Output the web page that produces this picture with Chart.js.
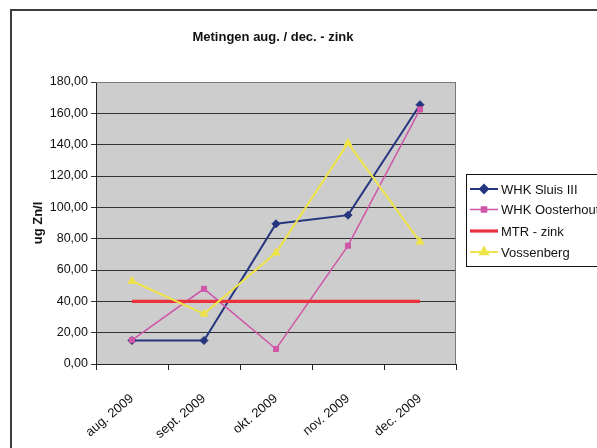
<!DOCTYPE html>
<html>
<head>
<meta charset="utf-8">
<script src="https://cdn.jsdelivr.net/npm/chart.js@4/dist/chart.umd.min.js"></script>
<style>
  html, body { margin: 0; padding: 0; background: #fff; overflow: hidden; }
  #wrap { position: absolute; left: 0; top: 0; width: 597px; height: 448px; }
</style>
</head>
<body>
<div id="wrap"><canvas id="c" width="597" height="448"></canvas></div>
<script>
// Monthly zinc measurements (ug Zn/l)
const chartTitle = 'Metingen aug. / dec. - zink';
const yAxisTitle = 'ug Zn/l';
const categories = ['aug. 2009', 'sept. 2009', 'okt. 2009', 'nov. 2009', 'dec. 2009'];
const seriesNames = ['WHK Sluis III', 'WHK Oosterhout', 'MTR - zink', 'Vossenberg'];
const sluisIII   = [15, 15, 89.5, 95, 165.5];
const oosterhout = [15.3, 48, 9.6, 75.5, 162.5];
const mtrZink    = [40, 40, 40, 40, 40];
const vossenberg = [53, 32, 71, 141, 78];
const yTicks = { min: 0, max: 180, step: 20 };

const FONT = "'Liberation Sans', Arial, sans-serif";

const styles = [
  { color: '#25367f', width: 2,   point: 'rectRot',  radius: 4 },
  { color: '#cf56a8', width: 1.5, point: 'rect',     radius: 3.6 },
  { color: '#e8323c', width: 3.2, point: false,      radius: 0 },
  { color: '#efe34a', width: 2,   point: 'triangle', radius: 4.5 }
];
const values = [sluisIII, oosterhout, mtrZink, vossenberg];

const datasets = values.map((v, i) => ({
  label: seriesNames[i],
  data: v,
  borderColor: styles[i].color,
  backgroundColor: styles[i].color,
  borderWidth: styles[i].width,
  pointStyle: styles[i].point,
  pointRadius: styles[i].radius,
  pointBorderWidth: 1,
  tension: 0,
  fill: false,
  order: values.length - i   // later series drawn on top
}));

// Frame, plot background, title and boxed legend
const decor = {
  id: 'decor',
  beforeDraw(chart) {
    const ctx = chart.ctx, a = chart.chartArea;
    ctx.save();
    ctx.fillStyle = '#ffffff';
    ctx.fillRect(0, 0, chart.width, chart.height);
    ctx.fillStyle = '#cdcdcd';
    ctx.fillRect(a.left, a.top, a.right - a.left, a.bottom - a.top);
    ctx.restore();
  },
  afterDraw(chart) {
    const ctx = chart.ctx, a = chart.chartArea;
    ctx.save();
    // plot border (top / right)
    ctx.strokeStyle = '#7a7a7a';
    ctx.lineWidth = 1;
    ctx.beginPath();
    ctx.moveTo(a.left, a.top + 0.5);
    ctx.lineTo(a.right - 0.5, a.top + 0.5);
    ctx.lineTo(a.right - 0.5, a.bottom);
    ctx.stroke();
    // outer frame
    ctx.strokeStyle = '#3c3c3c';
    ctx.lineWidth = 2;
    ctx.strokeRect(11, 10, 700, 600);
    // title
    ctx.fillStyle = '#111';
    ctx.font = 'bold 13px ' + FONT;
    ctx.textAlign = 'center';
    ctx.textBaseline = 'middle';
    ctx.fillText(chartTitle, 273, 37);
    // legend
    const lx = 466.5, ly = 174.5;
    ctx.strokeStyle = '#111';
    ctx.lineWidth = 1;
    ctx.strokeRect(lx, ly, 200, 92);
    const rows = [189, 209.5, 231, 252];
    chart.data.datasets.forEach((ds, i) => {
      const y = rows[i];
      ctx.strokeStyle = ds.borderColor;
      ctx.lineWidth = ds.borderWidth;
      ctx.beginPath();
      ctx.moveTo(470, y);
      ctx.lineTo(498, y);
      ctx.stroke();
      if (ds.pointStyle) {
        Chart.helpers.drawPoint(ctx, {
          pointStyle: ds.pointStyle, radius: ds.pointRadius, borderWidth: 1, rotation: 0
        }, 484, y);
        ctx.fillStyle = ds.backgroundColor;
        ctx.fill();
      }
      ctx.fillStyle = '#111';
      ctx.font = '13px ' + FONT;
      ctx.textAlign = 'left';
      ctx.textBaseline = 'middle';
      ctx.fillText(ds.label, 501, y + 1);
    });
    ctx.restore();
  }
};

new Chart(document.getElementById('c'), {
  type: 'line',
  data: { labels: categories, datasets },
  plugins: [decor],
  options: {
    responsive: false,
    animation: false,
    devicePixelRatio: 1,
    layout: { padding: { left: 29, top: 82, right: 141, bottom: 0 } },
    plugins: { legend: { display: false }, title: { display: false }, tooltip: { enabled: false } },
    scales: {
      x: {
        offset: true,
        grid: { offset: true, drawOnChartArea: false, drawTicks: true, tickLength: 6, color: '#222' },
        border: { display: true, color: '#222', width: 1 },
        ticks: {
          color: '#111', font: { family: FONT, size: 13 },
          minRotation: 40, maxRotation: 40, padding: 21, autoSkip: false
        },
        afterFit(s) { s.height = 84; }
      },
      y: {
        min: yTicks.min, max: yTicks.max,
        grid: { color: '#333', lineWidth: 1, drawTicks: true, tickLength: 5 },
        border: { display: true, color: '#222', width: 1 },
        ticks: {
          stepSize: yTicks.step, color: '#111', padding: 3,
          font: { family: FONT, size: 12.5 },
          callback: v => v.toFixed(2).replace('.', ',')
        },
        title: { display: true, text: yAxisTitle, color: '#111', font: { family: FONT, size: 13, weight: 'bold' }, padding: 2 },
        afterFit(s) { s.width = 67; }
      }
    }
  }
});
</script>
</body>
</html>
